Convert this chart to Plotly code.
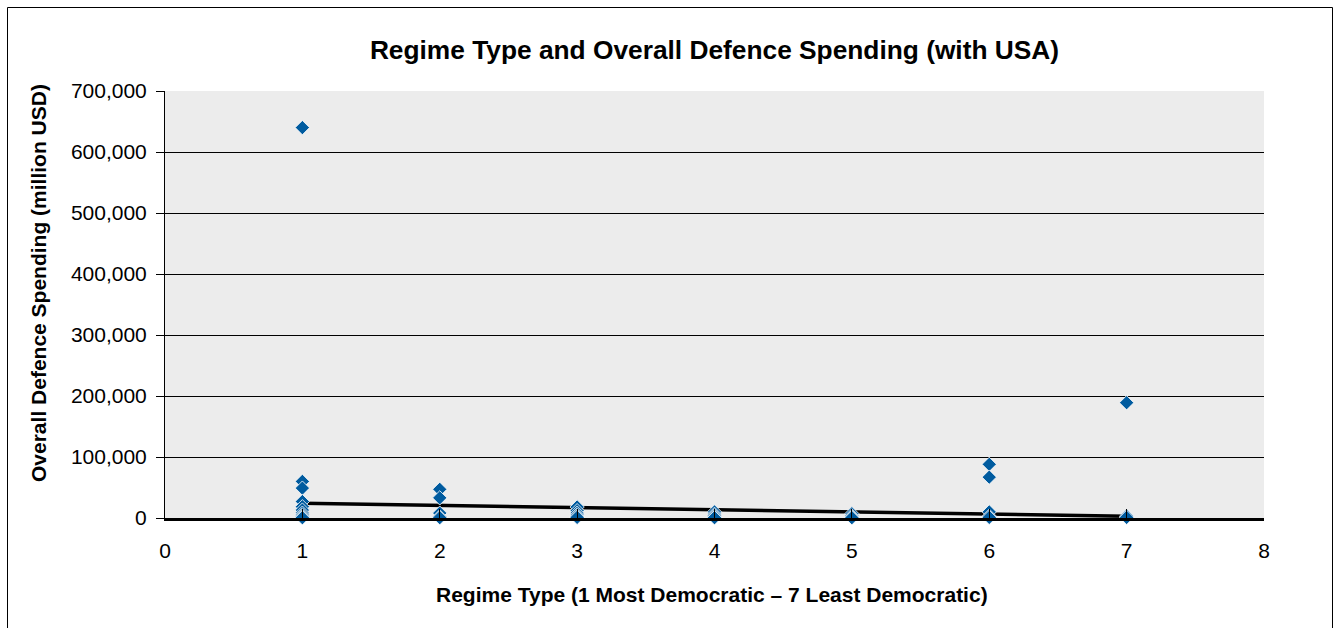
import plotly.graph_objects as go

# Regime type score (1 = most democratic, 7 = least democratic) per country
regime_type = (
    [1] * 11 + [2] * 5 + [3] * 6 + [4] * 5 + [5] * 4 + [6] * 5 + [7] * 3
)
# Overall defence spending, million USD
spending = [
    640000, 60000, 49000, 27000, 18500, 13000, 8000, 5000, 3000, 1500, 500,
    47000, 33000, 8000, 2000, 500,
    18000, 12000, 8000, 5000, 2500, 1000,
    10000, 6000, 3500, 1500, 500,
    7000, 3500, 1500, 500,
    88000, 67000, 10000, 3000, 1000,
    189000, 3000, 1000,
]
# Linear trend line end points
trend_x = [1, 7]
trend_y = [24000, 3000]

y_ticks = [0, 100000, 200000, 300000, 400000, 500000, 600000, 700000]
x_ticks = [0, 1, 2, 3, 4, 5, 6, 7, 8]

FONT = "Liberation Sans, Arial, Helvetica, sans-serif"

fig = go.Figure()
fig.add_trace(go.Scatter(
    x=trend_x, y=trend_y, mode="lines",
    line=dict(color="black", width=3.5),
    hoverinfo="skip", cliponaxis=False,
))
fig.add_trace(go.Scatter(
    x=regime_type, y=spending, mode="markers",
    marker=dict(symbol="diamond", size=11, color="#005b9f",
                line=dict(color="white", width=0.8)),
    cliponaxis=False,
))

fig.update_layout(
    width=1335, height=628,
    margin=dict(l=165, r=71, t=91, b=110),
    paper_bgcolor="white",
    plot_bgcolor="#ececec",
    showlegend=False,
    font=dict(family=FONT, color="black", size=20),
    title=dict(
        text="<b>Regime Type and Overall Defence Spending (with USA)</b>",
        x=0.5352, xanchor="center", y=1 - 50 / 628, yanchor="middle",
        font=dict(size=26.3, family=FONT, color="black"),
    ),
    xaxis=dict(
        range=[0, 8], tickvals=x_ticks, ticktext=[str(v) for v in x_ticks],
        showgrid=False, zeroline=False,
        showline=True, linecolor="black", linewidth=3,
        ticks="inside", ticklen=9, tickcolor="black", tickwidth=1,
        ticklabelstandoff=12,
        tickfont=dict(size=21, family=FONT),
    ),
    yaxis=dict(
        range=[0, 700000], tickvals=y_ticks,
        ticktext=[f"{v:,}" for v in y_ticks],
        showgrid=True, gridcolor="black", gridwidth=1,
        zeroline=False,
        showline=True, linecolor="black", linewidth=1,
        ticks="outside", ticklen=8, tickcolor="black", tickwidth=1,
        ticklabelstandoff=5,
        tickfont=dict(size=21, family=FONT),
    ),
    annotations=[
        dict(
            text="<b>Overall Defence Spending (million USD)</b>",
            xref="paper", yref="paper",
            x=(38 - 165) / 1099, y=(518 - 283) / 427,
            xanchor="center", yanchor="middle", textangle=-90,
            showarrow=False, font=dict(size=21, family=FONT),
        ),
        dict(
            text="<b>Regime Type (1 Most Democratic \u2013 7 Least Democratic)</b>",
            xref="paper", yref="paper",
            x=(712 - 165) / 1099, y=(518 - 594) / 427,
            xanchor="center", yanchor="middle",
            showarrow=False, font=dict(size=21, family=FONT),
        ),
    ],
    shapes=[
        dict(type="rect", xref="paper", yref="paper",
             x0=(7.5 - 165) / 1099, x1=(1332.5 - 165) / 1099,
             y0=(518 - 700) / 427, y1=(518 - 7.5) / 427,
             line=dict(color="black", width=1), layer="below"),
    ],
)

fig.write_html("out.html")
